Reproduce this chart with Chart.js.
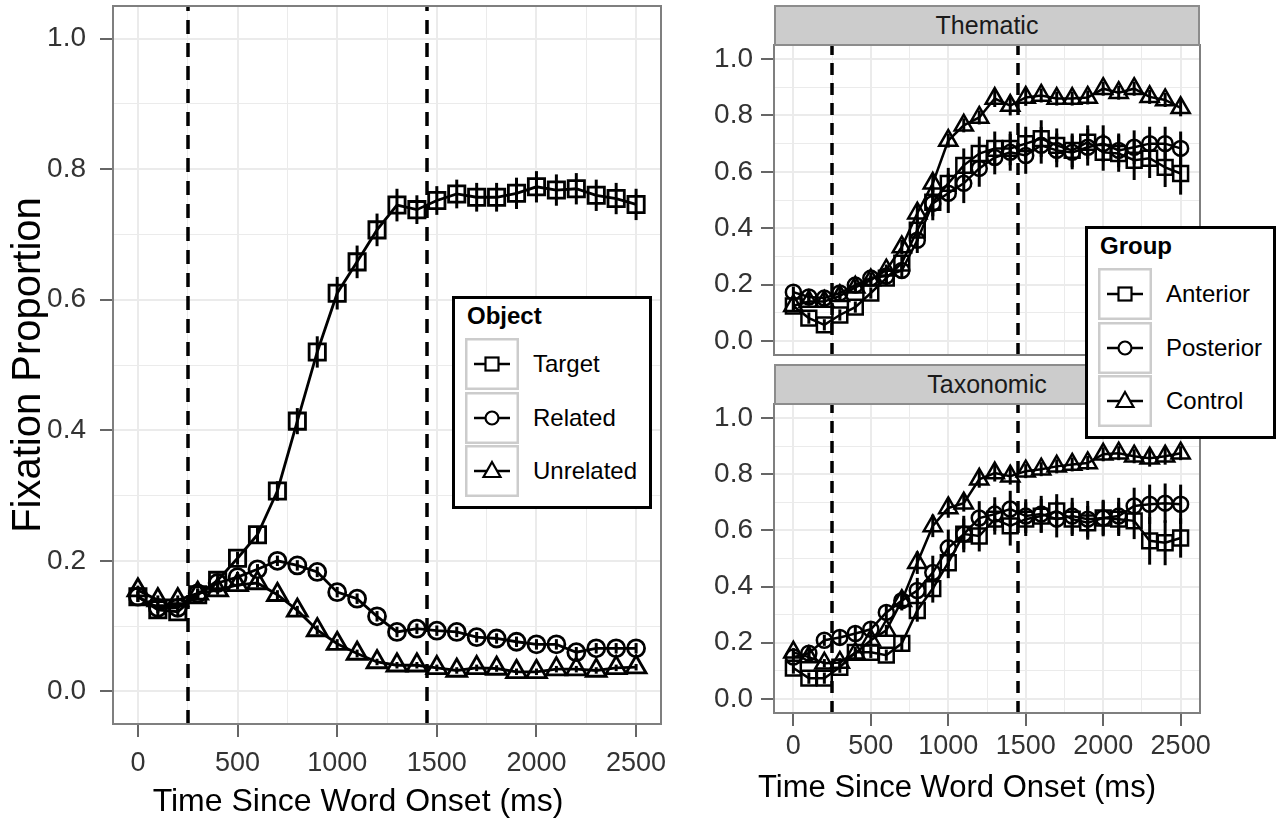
<!DOCTYPE html>
<html>
<head>
<meta charset="utf-8">
<script src="https://cdn.jsdelivr.net/npm/chart.js@4.4.1/dist/chart.umd.min.js"></script>
<style>
    body { margin: 0; background: #fff; font-family: "Liberation Sans", Arial, Helvetica, sans-serif; }
    #wrap { position: relative; width: 1282px; height: 820px; overflow: hidden; }
    canvas { position: absolute; }
    .strip { position: absolute; left: 774px; width: 426px; height: 41px; background: #cccccc; border: 2px solid #8c8c8c; box-sizing: border-box; font-size: 25px; text-align: center; line-height: 37px; color: #1a1a1a; }
    .xtitle { position: absolute; white-space: nowrap; transform: translate(-50%, -50%); color: #000; }
    .legend { position: absolute; background: #fff; border: 3px solid #000; box-sizing: border-box; z-index: 5; }
    .legend .ttl { position: absolute; left: 12px; top: 3px; line-height: 28px; font-weight: bold; font-size: 24px; }
    .legend .key { position: absolute; left: 10px; }
    .legend .lab { position: absolute; left: 78px; font-size: 24px; line-height: 28px; }
</style>
</head>
<body>
<div id="wrap">
    <canvas id="objectChart" width="680" height="820" style="left:0;top:0"></canvas>
    <canvas id="thematicChart" width="530" height="320" style="left:690px;top:40px"></canvas>
    <canvas id="taxonomicChart" width="530" height="421" style="left:690px;top:399px"></canvas>
    <div class="strip" style="top:5px">Thematic</div>
    <div class="strip" style="top:364px">Taxonomic</div>
    <div class="xtitle" style="left:358px;top:800px;font-size:32px">Time Since Word Onset (ms)</div>
    <div class="xtitle" style="left:957px;top:787px;font-size:31px">Time Since Word Onset (ms)</div>
    <div class="legend" id="objectLegend" style="left:452px;top:296px;width:200px;height:213px"></div>
    <div class="legend" id="groupLegend" style="left:1085px;top:226px;width:191px;height:213px"></div>
</div>

<script>
// Data
const timeMs = [0, 100, 200, 300, 400, 500, 600, 700, 800, 900, 1000, 1100, 1200,
    1300, 1400, 1500, 1600, 1700, 1800, 1900, 2000, 2100, 2200, 2300, 2400, 2500];
const xTicks = [0, 250, 500, 750, 1000, 1250, 1500, 1750, 2000, 2250, 2500];
const xLabels = [0, 500, 1000, 1500, 2000, 2500];
const yTicks = [0, 0.1, 0.2, 0.3, 0.4, 0.5, 0.6, 0.7, 0.8, 0.9, 1.0];
const windowLines = [250, 1450];

const objectNames = ['Target', 'Related', 'Unrelated'];
const targetMean = [0.145, 0.125, 0.122, 0.148, 0.170, 0.204, 0.240, 0.307, 0.414, 0.520, 0.610, 0.658, 0.707,
    0.745, 0.738, 0.752, 0.762, 0.757, 0.757, 0.763, 0.773, 0.768, 0.770, 0.760, 0.755, 0.746];
const targetSe = [0.008, 0.008, 0.008, 0.008, 0.01, 0.01, 0.012, 0.015, 0.02, 0.024, 0.025, 0.025, 0.025,
    0.025, 0.022, 0.022, 0.022, 0.022, 0.022, 0.024, 0.024, 0.024, 0.024, 0.024, 0.024, 0.024];
const relatedMean = [0.145, 0.128, 0.128, 0.150, 0.166, 0.175, 0.187, 0.200, 0.193, 0.183, 0.152, 0.142, 0.115,
    0.091, 0.096, 0.093, 0.091, 0.083, 0.081, 0.076, 0.072, 0.072, 0.060, 0.066, 0.066, 0.066];
const relatedSe = [0.008, 0.008, 0.008, 0.008, 0.008, 0.008, 0.008, 0.008, 0.008, 0.008, 0.008, 0.008, 0.008,
    0.008, 0.008, 0.008, 0.008, 0.008, 0.008, 0.008, 0.008, 0.008, 0.008, 0.008, 0.008, 0.008];
const unrelatedMean = [0.155, 0.140, 0.140, 0.150, 0.155, 0.163, 0.166, 0.148, 0.124, 0.094, 0.073, 0.058, 0.045,
    0.040, 0.040, 0.036, 0.032, 0.036, 0.035, 0.030, 0.030, 0.034, 0.034, 0.032, 0.036, 0.037];
const unrelatedSe = [0.007, 0.007, 0.007, 0.007, 0.007, 0.007, 0.007, 0.007, 0.007, 0.007, 0.007, 0.006, 0.005,
    0.005, 0.005, 0.005, 0.005, 0.005, 0.005, 0.005, 0.005, 0.005, 0.005, 0.005, 0.005, 0.005];

const groupNames = ['Anterior', 'Posterior', 'Control'];
const thematicAnterior = [0.124, 0.081, 0.057, 0.092, 0.120, 0.170, 0.223, 0.276, 0.393, 0.492, 0.559, 0.623, 0.665,
    0.683, 0.683, 0.700, 0.718, 0.694, 0.676, 0.705, 0.669, 0.665, 0.641, 0.648, 0.616, 0.594];
const thematicAnteriorSe = [0.02, 0.02, 0.02, 0.02, 0.02, 0.02, 0.025, 0.03, 0.04, 0.05, 0.055, 0.06, 0.06,
    0.06, 0.06, 0.06, 0.065, 0.06, 0.06, 0.06, 0.065, 0.065, 0.07, 0.07, 0.07, 0.075];
const thematicPosterior = [0.173, 0.156, 0.152, 0.170, 0.198, 0.223, 0.230, 0.250, 0.357, 0.488, 0.524, 0.559, 0.612,
    0.651, 0.669, 0.658, 0.694, 0.676, 0.669, 0.687, 0.700, 0.676, 0.687, 0.700, 0.700, 0.683];
const thematicPosteriorSe = [0.02, 0.02, 0.02, 0.02, 0.02, 0.02, 0.025, 0.03, 0.045, 0.06, 0.07, 0.07, 0.065,
    0.06, 0.065, 0.065, 0.065, 0.06, 0.06, 0.065, 0.065, 0.06, 0.06, 0.06, 0.06, 0.06];
const thematicControl = [0.125, 0.140, 0.140, 0.160, 0.190, 0.216, 0.251, 0.333, 0.453, 0.559, 0.711, 0.765, 0.793,
    0.860, 0.835, 0.864, 0.871, 0.860, 0.860, 0.864, 0.895, 0.881, 0.895, 0.866, 0.855, 0.827];
const thematicControlSe = [0.015, 0.015, 0.015, 0.015, 0.015, 0.015, 0.02, 0.025, 0.03, 0.03, 0.025, 0.025, 0.025,
    0.03, 0.035, 0.03, 0.025, 0.025, 0.025, 0.025, 0.025, 0.025, 0.025, 0.025, 0.025, 0.03];

const taxonomicAnterior = [0.110, 0.074, 0.074, 0.113, 0.166, 0.166, 0.156, 0.198, 0.315, 0.393, 0.485, 0.587, 0.580,
    0.640, 0.616, 0.640, 0.651, 0.669, 0.640, 0.627, 0.644, 0.640, 0.634, 0.563, 0.556, 0.573];
const taxonomicAnteriorSe = [0.02, 0.02, 0.02, 0.02, 0.02, 0.02, 0.02, 0.025, 0.04, 0.05, 0.055, 0.055, 0.055,
    0.055, 0.07, 0.06, 0.06, 0.06, 0.06, 0.06, 0.06, 0.06, 0.065, 0.085, 0.08, 0.07];
const taxonomicPosterior = [0.149, 0.163, 0.209, 0.219, 0.233, 0.248, 0.308, 0.350, 0.386, 0.450, 0.538, 0.587, 0.644,
    0.658, 0.676, 0.651, 0.658, 0.640, 0.651, 0.640, 0.644, 0.651, 0.687, 0.693, 0.697, 0.693];
const taxonomicPosteriorSe = [0.02, 0.02, 0.02, 0.025, 0.025, 0.025, 0.03, 0.035, 0.045, 0.06, 0.065, 0.065, 0.06,
    0.06, 0.065, 0.06, 0.065, 0.065, 0.065, 0.065, 0.065, 0.065, 0.065, 0.07, 0.07, 0.07];
const taxonomicControl = [0.166, 0.149, 0.127, 0.130, 0.163, 0.209, 0.244, 0.350, 0.485, 0.616, 0.680, 0.697, 0.782,
    0.804, 0.793, 0.811, 0.818, 0.828, 0.835, 0.840, 0.871, 0.875, 0.864, 0.857, 0.864, 0.875];
const taxonomicControlSe = [0.015, 0.015, 0.015, 0.015, 0.015, 0.02, 0.02, 0.03, 0.04, 0.04, 0.035, 0.03, 0.03,
    0.03, 0.03, 0.025, 0.025, 0.025, 0.025, 0.025, 0.025, 0.025, 0.025, 0.03, 0.03, 0.025];

const shapes = ['rect', 'circle', 'triangle'];

Chart.defaults.font.family = "'Liberation Sans', Arial, Helvetica, sans-serif";
Chart.defaults.color = '#333333';

// dashed window lines, error bars and the panel frame
const panelDecor = {
    id: 'panelDecor',
    beforeDatasetsDraw(chart, args, opts) {
        const ctx = chart.ctx;
        const area = chart.chartArea;
        const xs = chart.scales.x, ys = chart.scales.y;
        ctx.save();
        ctx.strokeStyle = '#000';
        ctx.lineWidth = 3.5;
        ctx.setLineDash(opts.dash);
        windowLines.forEach(function(t) {
            const px = Math.round(xs.getPixelForValue(t));
            ctx.beginPath();
            ctx.moveTo(px, area.bottom);
            ctx.lineTo(px, area.top);
            ctx.stroke();
        });
        ctx.setLineDash([]);
        ctx.lineWidth = opts.barWidth;
        chart.data.datasets.forEach(function(ds) {
            ds.means.forEach(function(m, i) {
                const px = xs.getPixelForValue(timeMs[i]);
                ctx.beginPath();
                ctx.moveTo(px, ys.getPixelForValue(m - ds.errors[i]));
                ctx.lineTo(px, ys.getPixelForValue(m + ds.errors[i]));
                ctx.stroke();
            });
        });
        ctx.restore();
    },
    afterDraw(chart) {
        const ctx = chart.ctx;
        const a = chart.chartArea;
        ctx.save();
        ctx.strokeStyle = '#7f7f7f';
        ctx.lineWidth = 2;
        ctx.strokeRect(a.left, a.top, a.right - a.left, a.bottom - a.top);
        ctx.restore();
    }
};

function series(label, values, errors, shape, radius, lw) {
    return {
        label: label,
        data: values.map((v, i) => ({ x: timeMs[i], y: v })),
        means: values,
        errors: errors,
        borderColor: '#000',
        borderWidth: lw,
        pointStyle: shape,
        pointRadius: radius,
        pointBorderColor: '#000',
        pointBackgroundColor: 'rgba(0,0,0,0)',
        pointBorderWidth: lw,
        tension: 0,
        fill: false,
        clip: false
    };
}

function isMajorY(v) { return Math.round(v * 10) % 2 === 0; }
function isMajorX(v) { return xLabels.includes(v); }

function noPadding(s) {
    s.paddingTop = 0;
    s.paddingBottom = 0;
    s.paddingLeft = 0;
    s.paddingRight = 0;
}

function panelOptions(p) {
    return {
        responsive: false,
        animation: false,
        events: [],
        layout: { autoPadding: false, padding: { left: 0, top: p.top, right: p.right, bottom: p.bottom } },
        plugins: {
            legend: { display: false },
            tooltip: { enabled: false },
            panelDecor: { dash: p.dash, barWidth: p.barWidth }
        },
        scales: {
            x: {
                type: 'linear',
                min: -125,
                max: 2625,
                afterBuildTicks: s => { s.ticks = xTicks.map(v => ({ value: v })); },
                afterFit: s => { s.height = p.xHeight; noPadding(s); },
                border: { display: false },
                grid: {
                    color: '#ebebeb',
                    lineWidth: c => isMajorX(c.tick.value) ? 2 : 1,
                    drawTicks: p.showX,
                    tickLength: 13,
                    tickWidth: 1.5,
                    tickColor: c => isMajorX(c.tick.value) ? '#333333' : 'rgba(0,0,0,0)'
                },
                ticks: {
                    display: p.showX,
                    autoSkip: false,
                    maxRotation: 0,
                    padding: p.xPad,
                    font: { size: 27 },
                    color: '#333333',
                    callback: v => isMajorX(v) ? String(v) : ''
                }
            },
            y: {
                min: -0.05,
                max: 1.05,
                afterBuildTicks: s => { s.ticks = yTicks.map(v => ({ value: v })); },
                afterFit: s => { s.width = p.yWidth; noPadding(s); },
                border: { display: false },
                title: {
                    display: !!p.yTitle,
                    text: p.yTitle || '',
                    color: '#000',
                    font: { size: 40 },
                    padding: { top: 5, bottom: 0 }
                },
                grid: {
                    color: '#ebebeb',
                    lineWidth: c => isMajorY(c.tick.value) ? 2 : 1,
                    tickLength: 13,
                    tickWidth: 1.5,
                    tickColor: c => isMajorY(c.tick.value) ? '#333333' : 'rgba(0,0,0,0)'
                },
                ticks: {
                    autoSkip: false,
                    padding: p.yPad,
                    font: { size: 28 },
                    color: '#333333',
                    callback: v => isMajorY(v) ? v.toFixed(1) : ''
                }
            }
        }
    };
}

new Chart(document.getElementById('objectChart'), {
    type: 'line',
    data: {
        datasets: [
            series(objectNames[0], targetMean, targetSe, shapes[0], 11.5, 2.8),
            series(objectNames[1], relatedMean, relatedSe, shapes[1], 8.5, 2.8),
            series(objectNames[2], unrelatedMean, unrelatedSe, shapes[2], 11.5, 2.8)
        ]
    },
    options: panelOptions({ top: 6, right: 19, bottom: 0, xHeight: 96, yWidth: 113, showX: true,
        xPad: 10, yPad: 14, yTitle: 'Fixation Proportion', dash: [14, 9], barWidth: 3 }),
    plugins: [panelDecor]
});

new Chart(document.getElementById('thematicChart'), {
    type: 'line',
    data: {
        datasets: [
            series(groupNames[0], thematicAnterior, thematicAnteriorSe, shapes[0], 10.5, 2.5),
            series(groupNames[1], thematicPosterior, thematicPosteriorSe, shapes[1], 7.5, 2.5),
            series(groupNames[2], thematicControl, thematicControlSe, shapes[2], 10.5, 2.5)
        ]
    },
    options: panelOptions({ top: 5, right: 20, bottom: 5, xHeight: 0, yWidth: 84, showX: false,
        xPad: 0, yPad: 8, dash: [12, 8], barWidth: 3 }),
    plugins: [panelDecor]
});

new Chart(document.getElementById('taxonomicChart'), {
    type: 'line',
    data: {
        datasets: [
            series(groupNames[0], taxonomicAnterior, taxonomicAnteriorSe, shapes[0], 10.5, 2.5),
            series(groupNames[1], taxonomicPosterior, taxonomicPosteriorSe, shapes[1], 7.5, 2.5),
            series(groupNames[2], taxonomicControl, taxonomicControlSe, shapes[2], 10.5, 2.5)
        ]
    },
    options: panelOptions({ top: 5, right: 20, bottom: 0, xHeight: 107, yWidth: 84, showX: true,
        xPad: 4, yPad: 8, dash: [12, 8], barWidth: 3 }),
    plugins: [panelDecor]
});

// legend keys: grey key box, line through, open marker
function keySvg(shape) {
    let mark = '';
    if (shape === 'rect') mark = '<rect x="20.5" y="19.5" width="13" height="13" fill="#fff" stroke="#000" stroke-width="2.2"/>';
    if (shape === 'circle') mark = '<circle cx="27" cy="26" r="6.5" fill="#fff" stroke="#000" stroke-width="2.2"/>';
    if (shape === 'triangle') mark = '<polygon points="27,17 35.5,32 18.5,32" fill="#fff" stroke="#000" stroke-width="2.2"/>';
    return '<svg width="54" height="52"><rect x="1.25" y="1.25" width="51.5" height="49.5" fill="#fff" stroke="#cccccc" stroke-width="2.5"/>' +
        '<line x1="9" y1="26" x2="45" y2="26" stroke="#000" stroke-width="2.5"/>' + mark + '</svg>';
}

function buildLegend(id, title, names) {
    const box = document.getElementById(id);
    let html = '<div class="ttl">' + title + '</div>';
    names.forEach(function(name, i) {
        const top = 39 + i * 53.5;
        html += '<div class="key" style="top:' + top + 'px">' + keySvg(shapes[i]) + '</div>';
        html += '<div class="lab" style="top:' + (top + 12) + 'px">' + name + '</div>';
    });
    box.innerHTML = html;
}

buildLegend('objectLegend', 'Object', objectNames);
buildLegend('groupLegend', 'Group', groupNames);
</script>
</body>
</html>
